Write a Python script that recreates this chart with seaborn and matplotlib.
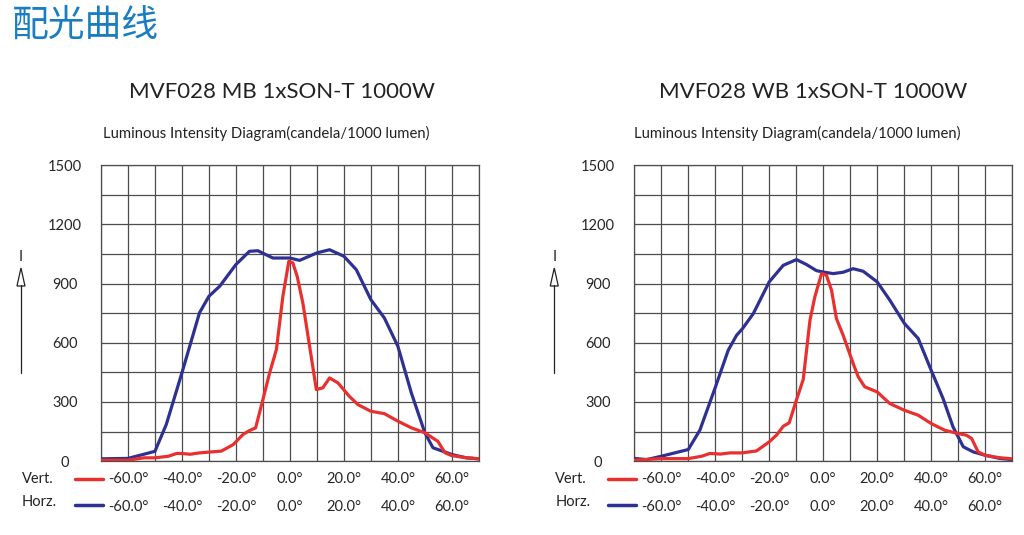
import numpy as np
import matplotlib.pyplot as plt
from matplotlib.lines import Line2D
import seaborn as sns

# Luminous intensity (cd/1000 lm)
mb_vert_angle = [-70, -60, -54, -50, -45, -42, -40, -37, -33.5, -30, -25.4, -21, -17.4, -15, -12.7,
                 -10, -7.5, -5, -2.6, -0.4, 1.1, 2.7, 4.8, 7.3, 9.8, 12.2, 14.7, 17.8, 22, 25.2,
                 30, 35, 40, 45, 50, 54.8, 57.5, 60, 65, 70]
mb_vert_cd = [5, 5, 17, 17, 25, 39, 39, 35, 42, 46, 51, 84, 135, 155, 169,
              312, 448, 566, 836, 1013, 1005, 937, 802, 583, 363, 372, 422, 397, 329, 287,
              253, 241, 203, 169, 144, 101, 42, 28, 18, 12]
mb_horz_angle = [-70, -60, -54.4, -50, -45.8, -40, -33.5, -30, -26, -20, -15, -11.9, -6.3, 0, 3.6,
                 10, 14.7, 20, 24.6, 30, 35, 40, 45, 50, 53, 60, 65.3, 70]
mb_horz_cd = [12, 14, 34, 50, 186, 448, 752, 836, 887, 997, 1064, 1067, 1030, 1030, 1018,
              1056, 1072, 1039, 971, 819, 726, 583, 346, 144, 68, 34, 17, 12]

wb_vert_angle = [-70, -60, -50, -45, -42, -38, -34.6, -30, -24.7, -20, -17.3, -14.8, -12.6, -9.9, -7.4,
                 -4.9, -3.1, -0.6, 1.2, 3.1, 4.9, 7.4, 11.1, 13, 15.4, 20, 24.7, 30.1, 35.2, 40,
                 45, 50, 53, 55, 57.4, 60, 65, 70]
wb_vert_cd = [5, 13, 13, 25, 39, 36, 42, 42, 52, 98, 132, 177, 194, 311, 414,
              714, 833, 951, 943, 866, 723, 638, 495, 427, 377, 351, 292, 258, 233, 191,
              157, 140, 132, 115, 47, 30, 18, 12]
wb_horz_angle = [-70, -65.4, -60, -55, -50, -45.7, -39.9, -35.2, -32.1, -29.9, -25.9, -20, -14.8, -9.9, -6.2,
                 -2.5, 0, 3.7, 7.4, 11.1, 14.8, 20, 24.7, 30.1, 35.2, 40, 44.4, 48.1, 51.9, 55.6,
                 60, 65.4, 70]
wb_horz_cd = [14, 8, 25, 42, 59, 157, 377, 562, 638, 672, 748, 909, 993, 1022, 997,
              966, 959, 951, 958, 976, 963, 909, 816, 698, 622, 461, 318, 174, 73, 47,
              30, 14, 8]

titles = ["MVF028 MB 1xSON-T 1000W", "MVF028 WB 1xSON-T 1000W"]
subtitle = "Luminous Intensity Diagram(candela/1000 lumen)"
angle_ticks = [-60, -40, -20, 0, 20, 40, 60]
cd_ticks = [0, 300, 600, 900, 1200, 1500]

RED = "#e8312f"
BLUE = "#2e3192"

sns.set_style("white")
plt.rcParams['font.family'] = ['Lato', 'DejaVu Sans']

fig = plt.figure(figsize=(10.24, 5.35), dpi=100)
fig.text(0.0117, 0.953, "配光曲线", fontsize=26.5, color="#1b7dc1",
         family=['Noto Sans CJK SC', 'DejaVu Sans'], va='center', ha='left')

panels = [
    (0.0986, 0.275, 0.260, titles[0], mb_vert_angle, mb_vert_cd, mb_horz_angle, mb_horz_cd),
    (0.6194, 0.794, 0.779, titles[1], wb_vert_angle, wb_vert_cd, wb_horz_angle, wb_horz_cd),
]

for left, tx, sx, title, va_, vc, ha_, hc in panels:
    ax = fig.add_axes([left, 0.138, 0.369, 0.553])
    sns.lineplot(x=ha_, y=hc, color=BLUE, linewidth=2.3, ax=ax, zorder=3)
    sns.lineplot(x=va_, y=vc, color=RED, linewidth=2.3, ax=ax, zorder=4)
    ax.set_xlim(-70, 70)
    ax.set_ylim(0, 1500)
    ax.set_xticks(angle_ticks)
    ax.set_xticks(np.arange(-70, 71, 10), minor=True)
    ax.set_yticks(cd_ticks)
    ax.set_yticks(np.arange(0, 1501, 150), minor=True)
    ax.grid(True, which='both', color='#4d4d4d', linewidth=0.9)
    ax.set_axisbelow(True)
    lab = [f"{t:.1f}°" for t in angle_ticks]
    ax.set_xticklabels([f"{s}\n{s}" for s in lab], fontsize=10.5, linespacing=2.25)
    ax.set_yticklabels([str(c) for c in cd_ticks], fontsize=10.5, ha='center')
    ax.tick_params(axis='both', which='both', length=0)
    ax.tick_params(axis='x', pad=8)
    ax.tick_params(axis='y', pad=26)
    for sp in ax.spines.values():
        sp.set_color('#4d4d4d')
        sp.set_linewidth(0.9)

    fig.text(tx, 0.828, title, fontsize=16, ha='center', va='center', color='#222222')
    fig.text(sx, 0.750, subtitle, fontsize=10.7, ha='center', va='center', color='#222222')

    # legend keys in front of the two tick-label rows
    px = left * 1024
    fig.text((px - 79) / 1024, 1 - 479 / 535, "Vert.", fontsize=10.5, va='center', color='#222222')
    fig.text((px - 79) / 1024, 1 - 502 / 535, "Horz.", fontsize=10.5, va='center', color='#222222')
    fig.add_artist(Line2D([(px - 26) / 1024, (px + 2) / 1024], [1 - 479 / 535] * 2,
                          color=RED, linewidth=2.5, transform=fig.transFigure))
    fig.add_artist(Line2D([(px - 26) / 1024, (px + 2) / 1024], [1 - 505 / 535] * 2,
                          color=BLUE, linewidth=2.5, transform=fig.transFigure))

    # intensity arrow "I"
    ax_x = (px - 80) / 1024
    fig.add_artist(Line2D([ax_x, ax_x], [1 - 373 / 535, 1 - 285 / 535], color='#222222',
                          linewidth=0.9, transform=fig.transFigure))
    fig.patches.append(plt.Polygon([[ax_x, 1 - 268 / 535], [ax_x - 4 / 1024, 1 - 286 / 535],
                                    [ax_x + 4 / 1024, 1 - 286 / 535]], closed=True,
                                   facecolor='white', edgecolor='#222222', linewidth=0.9,
                                   transform=fig.transFigure))
    fig.text(ax_x, 1 - 257 / 535, "I", fontsize=10.5, ha='center', va='center', color='#222222')

fig.savefig("out.png", dpi=100)
